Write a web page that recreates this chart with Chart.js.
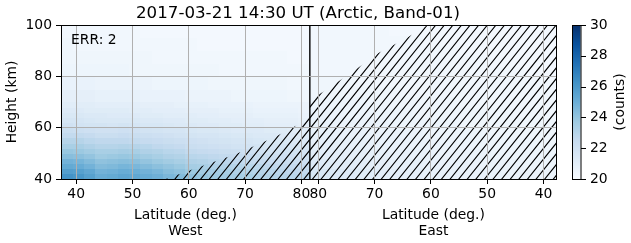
<!DOCTYPE html>
<html><head><meta charset="utf-8">
<script src="https://cdn.jsdelivr.net/npm/chart.js@4/dist/chart.umd.min.js"></script>
<style>html,body{margin:0;padding:0;background:#fff;}#wrap{width:631px;height:243px;position:relative;}</style>
</head><body><div id="wrap"><canvas id="c" width="631" height="243"></canvas></div>
<script>
// ---------------- data ----------------
const titleText = '2017-03-21 14:30 UT (Arctic, Band-01)';
const errText = 'ERR: 2';
const sides = ['West', 'East'];
const xTickLatitudes = [40, 50, 60, 70, 80];
const yTicks = [40, 60, 80, 100];
const colorbarTicks = [20, 22, 24, 26, 28, 30];
const colorMin = 20, colorMax = 30;
const dividerLat = 81.5;
const westEdgeLat = 37.3;
const eastEdgeLat = 37.6;
const heightMin = 40, heightMax = 100;
// latitude bin edges (both halves) and height bin edges (km)
const latEdges = [37.3, 39.5, 41.5, 43.5, 45.5, 47.5, 49.5, 51.5, 53.5, 55.5, 57.5, 59.5, 61.5, 63.5, 65.5, 67.5, 69.5, 71.5, 73.5, 75.5, 77.5, 79.5, 81.5];
const westHeightEdges = [40, 42, 44, 46, 48, 50, 52, 54, 56, 58, 60, 62, 64, 66, 68, 70, 75, 80, 85, 90, 95, 100];
const eastHeightEdges = [40, 44, 48, 52, 56, 60, 64, 68, 72, 76, 80, 84, 88, 92, 96, 100];
// counts; rows = height bins (bottom to top), columns = latitude bins (low to high latitude)
const westCounts = [
  [26.2,26.0,25.6,25.1,25.2,25.4,25.3,25.1,24.9,24.6,24.4,24.1,23.9,23.7,23.6,23.5,23.4,23.2,23.1,23.0,22.9,22.8],
  [25.7,25.6,25.3,24.8,24.9,25.1,25.0,24.8,24.6,24.3,24.1,23.8,23.6,23.5,23.4,23.2,23.1,23.0,22.9,22.8,22.7,22.6],
  [25.2,25.1,24.8,24.4,24.5,24.7,24.6,24.4,24.2,24.0,23.8,23.5,23.4,23.2,23.1,23.0,22.9,22.8,22.7,22.6,22.5,22.4],
  [24.8,24.7,24.4,24.1,24.2,24.3,24.2,24.0,23.8,23.6,23.4,23.2,23.1,22.9,22.8,22.7,22.6,22.5,22.4,22.3,22.2,22.1],
  [24.3,24.2,24.0,23.7,23.8,23.9,23.8,23.6,23.4,23.2,23.1,22.9,22.8,22.7,22.6,22.5,22.4,22.3,22.2,22.1,22.0,21.9],
  [23.9,23.8,23.6,23.4,23.4,23.5,23.4,23.2,23.1,22.9,22.8,22.6,22.5,22.4,22.3,22.2,22.1,22.0,21.9,21.9,21.8,21.7],
  [23.4,23.4,23.2,23.0,23.0,23.1,23.0,22.9,22.7,22.6,22.5,22.3,22.2,22.1,22.0,21.9,21.9,21.8,21.7,21.7,21.6,21.5],
  [23.0,23.0,22.8,22.7,22.7,22.7,22.6,22.5,22.4,22.3,22.2,22.1,22.0,21.9,21.8,21.7,21.7,21.6,21.5,21.5,21.4,21.4],
  [22.6,22.6,22.5,22.3,22.3,22.4,22.3,22.2,22.1,22.0,21.9,21.8,21.7,21.7,21.6,21.5,21.5,21.4,21.4,21.3,21.3,21.2],
  [22.3,22.2,22.1,22.0,22.0,22.1,22.0,21.9,21.8,21.7,21.7,21.6,21.5,21.5,21.4,21.3,21.3,21.3,21.2,21.2,21.1,21.1],
  [22.0,21.9,21.8,21.8,21.7,21.8,21.7,21.6,21.6,21.5,21.4,21.4,21.3,21.3,21.2,21.2,21.1,21.1,21.0,21.0,21.0,20.9],
  [21.7,21.7,21.6,21.5,21.5,21.5,21.5,21.4,21.4,21.3,21.3,21.2,21.2,21.1,21.1,21.0,21.0,21.0,20.9,20.9,20.9,20.8],
  [21.5,21.5,21.4,21.4,21.3,21.3,21.3,21.2,21.2,21.1,21.1,21.1,21.0,21.0,20.9,20.9,20.9,20.8,20.8,20.8,20.8,20.7],
  [21.3,21.3,21.2,21.2,21.2,21.2,21.1,21.1,21.0,21.0,21.0,20.9,20.9,20.9,20.8,20.8,20.8,20.7,20.7,20.7,20.7,20.6],
  [21.1,21.1,21.1,21.0,21.0,21.0,21.0,20.9,20.9,20.9,20.8,20.8,20.8,20.7,20.7,20.7,20.7,20.6,20.6,20.6,20.6,20.6],
  [20.9,20.9,20.9,20.8,20.8,20.8,20.8,20.7,20.7,20.7,20.7,20.6,20.6,20.6,20.6,20.5,20.5,20.5,20.5,20.5,20.4,20.4],
  [20.7,20.7,20.7,20.6,20.6,20.6,20.6,20.6,20.5,20.5,20.5,20.5,20.5,20.4,20.4,20.4,20.4,20.4,20.4,20.4,20.3,20.3],
  [20.5,20.5,20.5,20.5,20.5,20.5,20.4,20.4,20.4,20.4,20.4,20.4,20.4,20.4,20.3,20.3,20.3,20.3,20.3,20.3,20.3,20.3],
  [20.4,20.4,20.4,20.4,20.4,20.4,20.4,20.4,20.3,20.3,20.3,20.3,20.3,20.3,20.3,20.3,20.3,20.3,20.3,20.3,20.2,20.2],
  [20.4,20.3,20.3,20.3,20.3,20.3,20.3,20.3,20.3,20.3,20.3,20.3,20.2,20.2,20.2,20.2,20.2,20.2,20.2,20.2,20.2,20.2],
  [20.3,20.3,20.3,20.3,20.3,20.3,20.3,20.2,20.2,20.2,20.2,20.2,20.2,20.2,20.2,20.2,20.2,20.2,20.2,20.2,20.2,20.2]
];
const eastCounts = [
  [20.6,20.6,20.6,20.6,20.6,20.7,20.7,20.7,20.7,20.8,20.8,20.8,20.9,20.9,21.0,21.0,21.1,21.2,21.3,21.4,21.5,21.6],
  [20.5,20.5,20.5,20.6,20.6,20.6,20.6,20.6,20.7,20.7,20.7,20.7,20.8,20.8,20.8,20.9,20.9,21.0,21.1,21.1,21.2,21.3],
  [20.5,20.5,20.5,20.5,20.5,20.5,20.6,20.6,20.6,20.6,20.6,20.7,20.7,20.7,20.7,20.8,20.8,20.9,20.9,21.0,21.0,21.1],
  [20.4,20.4,20.5,20.5,20.5,20.5,20.5,20.5,20.5,20.6,20.6,20.6,20.6,20.6,20.7,20.7,20.7,20.8,20.8,20.8,20.9,20.9],
  [20.4,20.4,20.4,20.4,20.4,20.4,20.5,20.5,20.5,20.5,20.5,20.5,20.6,20.6,20.6,20.6,20.6,20.7,20.7,20.7,20.8,20.8],
  [20.4,20.4,20.4,20.4,20.4,20.4,20.4,20.4,20.4,20.5,20.5,20.5,20.5,20.5,20.5,20.6,20.6,20.6,20.6,20.6,20.7,20.7],
  [20.3,20.3,20.3,20.3,20.4,20.4,20.4,20.4,20.4,20.4,20.4,20.4,20.4,20.5,20.5,20.5,20.5,20.5,20.5,20.6,20.6,20.6],
  [20.3,20.3,20.3,20.3,20.3,20.3,20.3,20.3,20.3,20.4,20.4,20.4,20.4,20.4,20.4,20.4,20.4,20.5,20.5,20.5,20.5,20.5],
  [20.3,20.3,20.3,20.3,20.3,20.3,20.3,20.3,20.3,20.3,20.3,20.3,20.3,20.3,20.4,20.4,20.4,20.4,20.4,20.4,20.4,20.4],
  [20.3,20.3,20.3,20.3,20.3,20.3,20.3,20.3,20.3,20.3,20.3,20.3,20.3,20.3,20.3,20.3,20.3,20.3,20.4,20.4,20.4,20.4],
  [20.2,20.2,20.2,20.3,20.3,20.3,20.3,20.3,20.3,20.3,20.3,20.3,20.3,20.3,20.3,20.3,20.3,20.3,20.3,20.3,20.3,20.3],
  [20.2,20.2,20.2,20.2,20.2,20.2,20.3,20.3,20.3,20.3,20.3,20.3,20.3,20.3,20.3,20.3,20.3,20.3,20.3,20.3,20.3,20.3],
  [20.2,20.2,20.2,20.2,20.2,20.2,20.2,20.2,20.2,20.3,20.3,20.3,20.3,20.3,20.3,20.3,20.3,20.3,20.3,20.3,20.3,20.3],
  [20.2,20.2,20.2,20.2,20.2,20.2,20.2,20.2,20.2,20.2,20.2,20.2,20.3,20.3,20.3,20.3,20.3,20.3,20.3,20.3,20.3,20.3],
  [20.2,20.2,20.2,20.2,20.2,20.2,20.2,20.2,20.2,20.2,20.2,20.2,20.2,20.2,20.2,20.3,20.3,20.3,20.3,20.3,20.3,20.3]
];
// hatched (masked) region: below these boundary points
const westMaskLat = [55.9, 62.0, 68.3, 75.4, 79.3, 81.5];
const westMaskHeight = [40, 44.8, 49.6, 56.5, 61.0, 64.5];
const eastMaskLat = [81.5, 80.4, 74.2, 69.3, 64.3, 60.6];
const eastMaskHeight = [70.5, 72.1, 81.3, 89.1, 94.9, 100];

// ---------------- helpers ----------------
const toU = (side, lat) => side === 'West' ? lat : 2 * dividerLat - lat;
const uMin = toU('West', westEdgeLat), uMax = toU('East', eastEdgeLat);
const xTickValues = [...xTickLatitudes.map(l => toU('West', l)), ...xTickLatitudes.slice().reverse().map(l => toU('East', l))];
const xTickLabels = [...xTickLatitudes.map(String), ...xTickLatitudes.slice().reverse().map(String)];

const bluesStops = ['#f7fbff','#deebf7','#c6dbef','#9ecae1','#6baed6','#4292c6','#2171b5','#08519c','#08306b']
  .map(h => [parseInt(h.slice(1,3),16), parseInt(h.slice(3,5),16), parseInt(h.slice(5,7),16)]);
function blues(t) {
  t = Math.max(0, Math.min(1, t));
  const p = t * (bluesStops.length - 1), i = Math.min(Math.floor(p), bluesStops.length - 2), f = p - i;
  const a = bluesStops[i], b = bluesStops[i + 1];
  return `rgb(${Math.round(a[0]+(b[0]-a[0])*f)},${Math.round(a[1]+(b[1]-a[1])*f)},${Math.round(a[2]+(b[2]-a[2])*f)})`;
}
const FONT = 'DejaVu Sans';
const FS = 13.9;

function hatchPolygon(ctx, pts, area) {
  ctx.save();
  ctx.beginPath();
  ctx.rect(area.left, area.top, area.width, area.height);
  ctx.clip();
  ctx.beginPath();
  pts.forEach((p, i) => i ? ctx.lineTo(p[0], p[1]) : ctx.moveTo(p[0], p[1]));
  ctx.closePath();
  ctx.clip();
  const spacing = 8.6, slope = 1.25;
  const step = spacing * slope;
  ctx.beginPath();
  const bMin = area.top + slope * area.left - 20, bMax = area.bottom + slope * area.right + 20;
  for (let b = Math.floor(bMin / step) * step; b <= bMax; b += step) {
    ctx.moveTo(area.left - 20, b - slope * (area.left - 20));
    ctx.lineTo(area.right + 20, b - slope * (area.right + 20));
  }
  ctx.strokeStyle = '#000';
  ctx.lineWidth = 1.1;
  ctx.stroke();
  ctx.restore();
}

function drawGrid(ctx, x, y, side, grid, hEdges) {
  grid.forEach((row, r) => {
    row.forEach((v, c) => {
      const px0 = x.getPixelForValue(toU(side, latEdges[c]));
      const px1 = x.getPixelForValue(toU(side, latEdges[c + 1]));
      const py0 = y.getPixelForValue(hEdges[r]);
      const py1 = y.getPixelForValue(hEdges[r + 1]);
      const l = Math.floor(Math.min(px0, px1)), rr = Math.ceil(Math.max(px0, px1));
      const t = Math.floor(Math.min(py0, py1)), bb = Math.ceil(Math.max(py0, py1));
      ctx.fillStyle = blues((v - colorMin) / (colorMax - colorMin));
      ctx.fillRect(l, t, rr - l, bb - t);
    });
  });
}

const heatmapPlugin = {
  id: 'heatmap',
  beforeDatasetsDraw(chart) {
    const {ctx, chartArea: a, scales: {x, y}} = chart;
    ctx.save();
    ctx.beginPath(); ctx.rect(a.left, a.top, a.width, a.height); ctx.clip();
    drawGrid(ctx, x, y, 'West', westCounts, westHeightEdges);
    drawGrid(ctx, x, y, 'East', eastCounts, eastHeightEdges);
    ctx.restore();
    // hatched regions
    const wPts = westMaskLat.map((l, i) => [x.getPixelForValue(toU('West', l)), y.getPixelForValue(westMaskHeight[i])]);
    wPts.push([x.getPixelForValue(toU('West', dividerLat)), y.getPixelForValue(heightMin) + 5]);
    wPts.push([x.getPixelForValue(toU('West', westMaskLat[0])), y.getPixelForValue(heightMin) + 5]);
    hatchPolygon(ctx, wPts, a);
    const ePts = eastMaskLat.map((l, i) => [x.getPixelForValue(toU('East', l)), y.getPixelForValue(eastMaskHeight[i])]);
    ePts.push([a.right + 5, y.getPixelForValue(heightMax) - 5]);
    ePts.push([a.right + 5, y.getPixelForValue(heightMin) + 5]);
    ePts.push([x.getPixelForValue(toU('East', dividerLat)), y.getPixelForValue(heightMin) + 5]);
    hatchPolygon(ctx, ePts, a);
  },
  afterDraw(chart) {
    const {ctx, chartArea: a, scales: {x, y, cb}} = chart;
    ctx.save();
    // frame
    ctx.strokeStyle = '#000'; ctx.lineWidth = 1;
    ctx.strokeRect(a.left + 0.5, a.top + 0.5, a.width - 1, a.height);
    // colorbar
    const cbL = a.right + 15, cbW = 8.5;
    const top = cb.getPixelForValue(colorMax), bot = cb.getPixelForValue(colorMin);
    for (let py = Math.floor(top); py < Math.ceil(bot); py++) {
      const v = cb.getValueForPixel(py + 0.5);
      ctx.fillStyle = blues((v - colorMin) / (colorMax - colorMin));
      ctx.fillRect(cbL, py, cbW, 1);
    }
    ctx.strokeRect(Math.round(cbL) + 0.5, Math.round(top) + 0.5, cbW, Math.round(bot - top));
    ctx.beginPath();
    colorbarTicks.forEach(v => {
      const py = Math.round(cb.getPixelForValue(v)) + 0.5;
      ctx.moveTo(cbL + cbW + 0.5, py); ctx.lineTo(cbL + cbW + 5.5, py);
    });
    ctx.stroke();
    // texts
    ctx.fillStyle = '#000';
    ctx.textBaseline = 'alphabetic';
    ctx.font = `16.67px "${FONT}"`;
    ctx.textAlign = 'center';
    ctx.fillText(titleText, 298, 17.5);
    ctx.font = `${FS}px "${FONT}"`;
    ctx.textAlign = 'left';
    ctx.fillText(errText, a.left + 10, a.top + 18.5);
    ctx.textAlign = 'center';
    sides.forEach(side => {
      const cx = (x.getPixelForValue(toU(side, side === 'West' ? westEdgeLat : eastEdgeLat)) + x.getPixelForValue(toU(side, dividerLat))) / 2;
      ctx.fillText('Latitude (deg.)', cx, 219.3);
      ctx.fillText(side, cx, 235.4);
    });
    const cy = (a.top + a.bottom) / 2;
    ctx.save(); ctx.translate(15.5, cy); ctx.rotate(-Math.PI / 2); ctx.fillText('Height (km)', 0, 0); ctx.restore();
    ctx.save(); ctx.translate(624, cy); ctx.rotate(-Math.PI / 2); ctx.fillText('(counts)', 0, 0); ctx.restore();
    ctx.restore();
  }
};

const gridCommon = {color: '#b0b0b0', lineWidth: 1, tickColor: '#000', tickLength: 5, tickWidth: 1, z: 1};
new Chart(document.getElementById('c'), {
  type: 'scatter',
  data: {
    datasets: [{
      data: [{x: toU('West', dividerLat), y: heightMin}, {x: toU('West', dividerLat), y: heightMax}],
      showLine: true, borderColor: '#000', borderWidth: 1.4, pointRadius: 0
    }]
  },
  options: {
    responsive: false, animation: false, devicePixelRatio: 1,
    layout: {padding: {top: 25, left: 0, right: 0, bottom: 0}},
    plugins: {legend: {display: false}, tooltip: {enabled: false}, title: {display: false}},
    scales: {
      x: {
        type: 'linear', position: 'bottom', min: uMin, max: uMax,
        afterBuildTicks: s => { s.ticks = xTickValues.map(v => ({value: v})); },
        afterFit: s => { s.height = 64; s.paddingLeft = 0; s.paddingRight = 0; },
        ticks: {autoSkip: false, maxRotation: 0, padding: 2, color: '#000', font: {family: FONT, size: FS},
          callback: (v) => { const i = xTickValues.findIndex(t => Math.abs(t - v) < 1e-6); return i >= 0 ? xTickLabels[i] : ''; }},
        grid: gridCommon, border: {display: false}
      },
      y: {
        type: 'linear', position: 'left', min: heightMin, max: heightMax,
        afterBuildTicks: s => { s.ticks = yTicks.map(v => ({value: v})); },
        afterFit: s => { s.width = 61; s.paddingTop = 0; s.paddingBottom = 0; },
        ticks: {padding: 4, color: '#000', font: {family: FONT, size: FS}},
        grid: gridCommon, border: {display: false}
      },
      cb: {
        type: 'linear', position: 'right', min: colorMin, max: colorMax,
        afterBuildTicks: s => { s.ticks = colorbarTicks.map(v => ({value: v})); },
        afterFit: s => { s.width = 74; s.paddingTop = 0; s.paddingBottom = 0; },
        ticks: {padding: 33, color: '#000', font: {family: FONT, size: FS}},
        grid: {display: false, drawTicks: false}, border: {display: false}
      }
    }
  },
  plugins: [heatmapPlugin]
});
</script></body></html>
